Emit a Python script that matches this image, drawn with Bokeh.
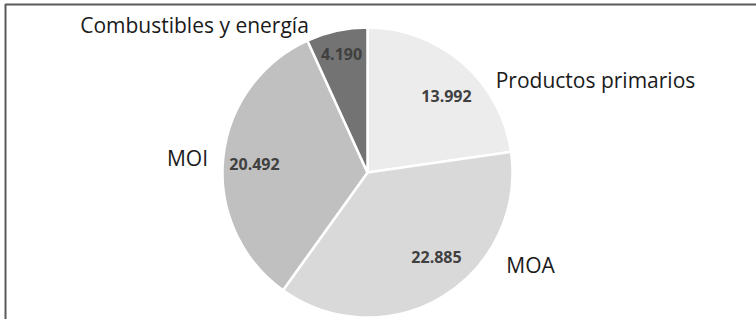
import math
from bokeh.plotting import figure
from bokeh.models import Range1d, ColumnDataSource
from bokeh.core.properties import value
from bokeh.embed import file_html
from bokeh.resources import INLINE

# ---- data ----
categories = ["Productos primarios", "MOA", "MOI", "Combustibles y energía"]
values = [13.992, 22.885, 20.492, 4.190]
value_labels = ["13.992", "22.885", "20.492", "4.190"]
colors = ["#ececec", "#d9d9d9", "#c0c0c0", "#737373"]

# ---- layout (image pixel coords: x right, y down) ----
W, H = 756, 319
CX, CY, R = 367, 172, 145
value_pos = [(446, 95), (436, 256), (254, 163.5), (341, 53)]
cat_pos = [(595, 79), (530, 264), (187, 157), (194, 24)]

def ty(y_img):
    return H - y_img

p = figure(width=W, height=H, output_backend="svg", toolbar_location=None,
           x_range=Range1d(0, W), y_range=Range1d(0, H),
           min_border=0, outline_line_color=None)
p.axis.visible = False
p.grid.visible = False
p.background_fill_color = "white"
p.border_fill_color = "white"

total = sum(values)
starts, ends = [], []
cum = 0.0
for v in values:
    starts.append(math.pi / 2 - cum / total * 2 * math.pi)
    cum += v
    ends.append(math.pi / 2 - cum / total * 2 * math.pi)

src = ColumnDataSource(dict(x=[CX] * 4, y=[ty(CY)] * 4, start=starts, end=ends,
                            color=colors, cat=categories))
p.wedge(x="x", y="y", radius=R, start_angle="start", end_angle="end",
        direction="clock", fill_color="color", line_color="white", line_width=2.5,
        source=src)

p.text(x=[q[0] for q in value_pos], y=[ty(q[1]) for q in value_pos], text=value_labels,
       text_font=value("Open Sans"), text_font_style="bold", text_font_size="16px",
       text_color="#404040", text_align="center", text_baseline="middle")

p.text(x=[q[0] for q in cat_pos], y=[ty(q[1]) for q in cat_pos], text=categories,
       text_font=value("Open Sans"), text_font_size="21px",
       text_color="#1a1a1a", text_align="center", text_baseline="middle")

# chart border (top and left edges visible)
p.line(x=[5, 5, W], y=[0, ty(4), ty(4)], line_color="#5a5a5a", line_width=2)

open("out.html", "w").write(file_html(p, INLINE))
